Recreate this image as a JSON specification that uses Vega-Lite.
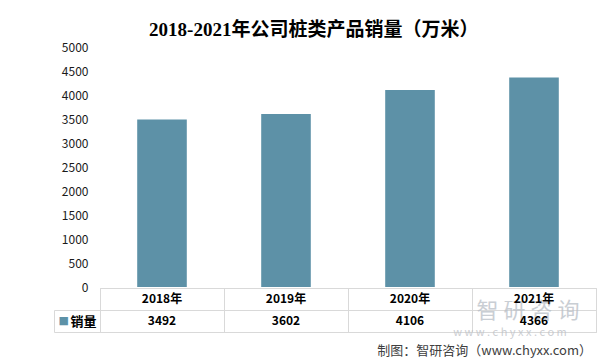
{
  "$schema": "https://vega.github.io/schema/vega-lite/v6.json",
  "background": "white",
  "padding": {"left": 53, "top": 21, "right": 10, "bottom": 6},
  "spacing": 1,
  "bounds": "flush",
  "title": {
    "text": "2018-2021年公司桩类产品销量（万米）",
    "font": "Liberation Serif, Noto Sans CJK SC",
    "fontSize": 19,
    "fontWeight": "bold",
    "color": "#000000",
    "anchor": "middle",
    "offset": 1,
    "dx": -11
  },
  "datasets": {
    "sales": [
      {"year": "2018年", "sales": 3492},
      {"year": "2019年", "sales": 3602},
      {"year": "2020年", "sales": 4106},
      {"year": "2021年", "sales": 4366}
    ]
  },
  "config": {
    "font": "Noto Sans CJK SC",
    "axis": {"labelFont": "Noto Sans CJK SC"}
  },
  "vconcat": [
    {
      "width": 496,
      "height": 240,
      "view": {"stroke": null},
      "data": {"name": "sales"},
      "mark": {"type": "bar", "color": "#5D91A7", "width": {"band": 0.4}},
      "encoding": {
        "x": {
          "field": "year",
          "type": "nominal",
          "sort": null,
          "scale": {"type": "band", "domain": ["2018年", "2019年", "2020年", "2021年"], "paddingInner": 0, "paddingOuter": 0},
          "axis": null
        },
        "y": {
          "field": "sales",
          "type": "quantitative",
          "scale": {"domain": [0, 5000], "nice": false},
          "axis": {
            "title": null,
            "values": [0, 500, 1000, 1500, 2000, 2500, 3000, 3500, 4000, 4500, 5000],
            "format": "d",
            "grid": false,
            "domain": false,
            "ticks": false,
            "tickSize": 0,
            "labelPadding": 12,
            "labelFontSize": 12,
            "labelColor": "#1a1a1a"
          }
        }
      }
    },
    {
      "width": 496,
      "height": 44,
      "view": {"stroke": "#D9D9D9"},
      "title": {
        "text": "制图：智研咨询（www.chyxx.com）",
        "orient": "bottom",
        "anchor": "end",
        "font": "Noto Sans CJK SC",
        "fontSize": 13,
        "fontWeight": "normal",
        "color": "#404040",
        "offset": 7,
        "dx": -4
      },
      "encoding": {
        "x": {
          "field": "year",
          "type": "nominal",
          "sort": null,
          "scale": {"type": "band", "domain": ["2018年", "2019年", "2020年", "2021年"], "paddingInner": 0, "paddingOuter": 0},
          "axis": {
            "title": null,
            "tickBand": "extent",
            "grid": true,
            "gridColor": "#D9D9D9",
            "labels": false,
            "ticks": false,
            "domain": false
          }
        }
      },
      "layer": [
        {
          "data": {"values": [{"t": "智 研 咨 询"}]},
          "mark": {"type": "text", "fontSize": 22, "color": "#B8BEC6", "opacity": 0.75, "dx": -6, "dy": -10},
          "encoding": {
            "x": {"datum": "2021年"},
            "y": {"datum": "销量", "type": "nominal", "scale": {"type": "band", "domain": ["年份", "销量"], "paddingInner": 0, "paddingOuter": 0}, "axis": null},
            "text": {"field": "t"}
          }
        },
        {
          "data": {"values": [{"t": "w w w . c h y x x . c o m"}]},
          "mark": {"type": "text", "fontSize": 11, "color": "#BFC3C8", "opacity": 0.8, "dx": -24, "dy": 12},
          "encoding": {
            "x": {"datum": "2021年"},
            "y": {"datum": "销量", "type": "nominal", "axis": null},
            "text": {"field": "t"}
          }
        },
        {
          "data": {"name": "sales"},
          "mark": {"type": "text", "fontSize": 12, "fontWeight": "bold", "color": "#000000"},
          "encoding": {
            "y": {
              "datum": "年份",
              "type": "nominal",
              "scale": {"type": "band", "domain": ["年份", "销量"], "paddingInner": 0, "paddingOuter": 0},
              "axis": {
                "orient": "left",
                "title": null,
                "tickBand": "extent",
                "ticks": true,
                "tickSize": 46,
                "tickColor": {"condition": {"test": "!datum.value", "value": "transparent"}, "value": "#D9D9D9"},
                "domain": false,
                "grid": true,
                "gridColor": "#D9D9D9",
                "labelExpr": "datum.value === '销量' ? '销量' : ''",
                "labelPadding": -42,
                "labelFontSize": 13,
                "labelFontWeight": "bold",
                "labelColor": "#000000"
              }
            },
            "text": {"field": "year"}
          }
        },
        {
          "data": {"name": "sales"},
          "mark": {"type": "text", "fontSize": 12, "fontWeight": "bold", "color": "#000000"},
          "encoding": {
            "y": {
              "datum": "销量",
              "type": "nominal",
              "axis": {
                "orient": "left",
                "title": null,
                "offset": 46,
                "ticks": false,
                "tickSize": 0,
                "grid": false,
                "domain": true,
                "domainColor": "#D9D9D9",
                "domainDash": [0, 22, 22],
                "labelExpr": "datum.value === '销量' ? '■' : ''",
                "labelAlign": "left",
                "labelPadding": -4,
                "labelColor": "#5D91A7",
                "labelFont": "DejaVu Sans",
                "labelFontSize": 11
              }
            },
            "text": {"field": "sales"}
          }
        }
      ],
      "resolve": {"axis": {"y": "independent"}}
    }
  ]
}
